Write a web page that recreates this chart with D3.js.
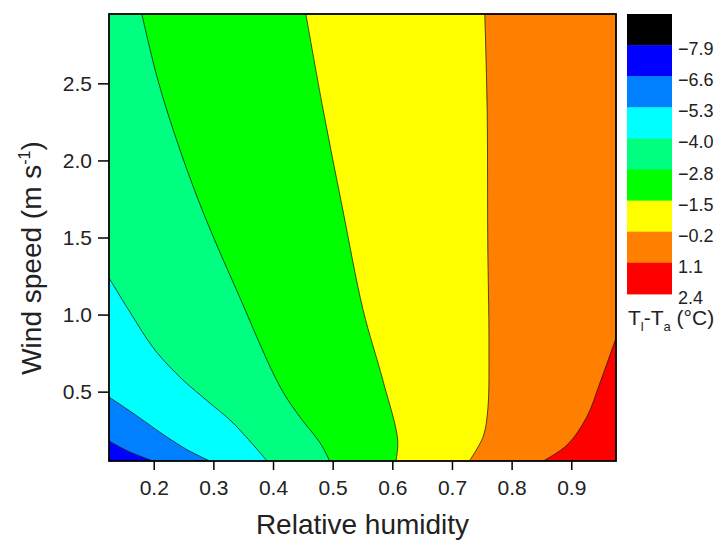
<!DOCTYPE html>
<html>
<head>
<meta charset="utf-8">
<script src="https://cdn.jsdelivr.net/npm/d3@7"></script>
<style>
  body { margin: 0; background: #fff; }
  svg { font-family: Arial, "Liberation Sans", Helvetica, sans-serif; }
</style>
</head>
<body>
<svg id="chart" width="720" height="540"></svg>
<script>
// contour levels and fill colours (colour i sits above level i on the bar)
const levels = [-7.9, -6.6, -5.3, -4.0, -2.8, -1.5, -0.2, 1.1, 2.4];
const bandColors = ["#000000", "#0000ff", "#0080ff", "#00ffff", "#00ff80", "#00ff00", "#ffff00", "#ff8000", "#ff0000"];

const rhExtent = [0.125, 0.975];
const wsExtent = [0.05, 2.95];
const rhTicks = [0.2, 0.3, 0.4, 0.5, 0.6, 0.7, 0.8, 0.9];
const wsTicks = [0.5, 1.0, 1.5, 2.0, 2.5];

// contour lines: [relative humidity, wind speed]
const contour_m66 = [[0.125, 0.180], [0.160, 0.108], [0.199, 0.05]];
const contour_m53 = [[0.125, 0.465], [0.165, 0.361], [0.205, 0.251], [0.222, 0.206], [0.257, 0.121], [0.294, 0.05]];
const contour_m40 = [[0.125, 1.238], [0.160, 1.017], [0.202, 0.770], [0.249, 0.576], [0.291, 0.436], [0.333, 0.297], [0.390, 0.05]];
const contour_m28 = [[0.180, 2.95], [0.207, 2.52], [0.244, 2.068], [0.286, 1.633], [0.341, 1.140], [0.412, 0.530], [0.445, 0.336], [0.479, 0.167], [0.495, 0.05]];
const contour_m15 = [[0.455, 2.95], [0.484, 2.328], [0.517, 1.679], [0.551, 1.030], [0.584, 0.576], [0.609, 0.186], [0.606, 0.05]];
const contour_m02 = [[0.755, 2.95], [0.759, 2.328], [0.760, 1.465], [0.762, 0.816], [0.760, 0.381], [0.752, 0.206], [0.729, 0.05]];
const contour_p11 = [[0.975, 0.848], [0.948, 0.556], [0.926, 0.336], [0.893, 0.154], [0.853, 0.05]];

// level -> line, region to the right of each line is above that level
const contours = [
  { level: -6.6, pts: contour_m66 },
  { level: -5.3, pts: contour_m53 },
  { level: -4.0, pts: contour_m40 },
  { level: -2.8, pts: contour_m28 },
  { level: -1.5, pts: contour_m15 },
  { level: -0.2, pts: contour_m02 },
  { level: 1.1, pts: contour_p11 },
];

const MARGINS = { top: 14, right: 104, bottom: 79, left: 109 };
const W = 720, H = 540;

const svg = d3.select("#chart");

const x = d3.scaleLinear().domain(rhExtent).range([MARGINS.left, W - MARGINS.right]);
const y = d3.scaleLinear().domain(wsExtent).range([H - MARGINS.bottom, MARGINS.top]);

const colorOf = lv => bandColors[levels.indexOf(lv) + 1];

const line = d3.line()
  .x(d => x(d[0]))
  .y(d => y(d[1]))
  .curve(d3.curveCatmullRom.alpha(0.5));

// walk around the frame from the bottom end back to the start of the line
function corners(start) {
  const c = [[rhExtent[1], wsExtent[0]]];
  if (start[0] >= rhExtent[1] - 1e-6) return c;
  c.push([rhExtent[1], wsExtent[1]]);
  if (start[1] >= wsExtent[1] - 1e-6) return c;
  c.push([rhExtent[0], wsExtent[1]]);
  return c;
}

const plot = svg.append("g");

// lowest band fills the whole frame
plot.append("rect")
  .attr("x", x(rhExtent[0]))
  .attr("y", y(wsExtent[1]))
  .attr("width", x(rhExtent[1]) - x(rhExtent[0]))
  .attr("height", y(wsExtent[0]) - y(wsExtent[1]))
  .attr("fill", bandColors[1]);

plot.selectAll("path.band")
  .data(contours)
  .join("path")
  .attr("class", "band")
  .attr("fill", d => colorOf(d.level))
  .attr("d", d => line(d.pts) + corners(d.pts[0]).map(p => `L${x(p[0])},${y(p[1])}`).join("") + "Z");

plot.selectAll("path.iso")
  .data(contours)
  .join("path")
  .attr("class", "iso")
  .attr("fill", "none")
  .attr("stroke", "#1a1a1a")
  .attr("stroke-opacity", 0.75)
  .attr("stroke-width", 1)
  .attr("d", d => line(d.pts));

// axes
const fmt = d3.format(".1f");
const xAxis = svg.append("g")
  .attr("transform", `translate(0,${H - MARGINS.bottom})`)
  .call(d3.axisBottom(x).tickValues(rhTicks).tickFormat(fmt).tickSize(9).tickPadding(10).tickSizeOuter(0));
const yAxis = svg.append("g")
  .attr("transform", `translate(${MARGINS.left},0)`)
  .call(d3.axisLeft(y).tickValues(wsTicks).tickFormat(fmt).tickSize(11).tickPadding(6).tickSizeOuter(0));

[xAxis, yAxis].forEach(g => {
  g.select(".domain").remove();
  g.selectAll("line").attr("stroke", "#000").attr("stroke-width", 1.5);
  g.selectAll("text").attr("font-size", 21).attr("fill", "#222")
    .attr("font-family", "Arial, 'Liberation Sans', sans-serif");
});

// frame
svg.append("rect")
  .attr("x", x(rhExtent[0]))
  .attr("y", y(wsExtent[1]))
  .attr("width", x(rhExtent[1]) - x(rhExtent[0]))
  .attr("height", y(wsExtent[0]) - y(wsExtent[1]))
  .attr("fill", "none")
  .attr("stroke", "#000")
  .attr("stroke-width", 1.8);

// axis titles
svg.append("text")
  .attr("x", (x.range()[0] + x.range()[1]) / 2)
  .attr("y", 534)
  .attr("text-anchor", "middle")
  .attr("font-size", 28)
  .attr("fill", "#222")
  .text("Relative humidity");

const yt = svg.append("text")
  .attr("transform", "translate(41,258) rotate(-90)")
  .attr("text-anchor", "middle")
  .attr("font-size", 28)
  .attr("fill", "#222");
yt.append("tspan").text("Wind speed (m s");
yt.append("tspan").attr("font-size", 16).attr("dy", -11).text("-1");
yt.append("tspan").attr("dy", 11).text(")");

// colour bar
const barX = 627, barW = 45, barTop = 14, bandH = 31.1;
const bar = svg.append("g");
bar.selectAll("rect")
  .data(bandColors)
  .join("rect")
  .attr("x", barX)
  .attr("y", (d, i) => barTop + i * bandH)
  .attr("width", barW)
  .attr("height", bandH + 0.5)
  .attr("fill", d => d);

bar.selectAll("text")
  .data(levels)
  .join("text")
  .attr("x", barX + 51)
  .attr("y", (d, i) => barTop + (i + 1) * bandH + 10)
  .attr("font-size", 18)
  .attr("fill", "#222")
  .text(d => fmt(d));

const ct = svg.append("text")
  .attr("x", 628)
  .attr("y", 325)
  .attr("font-size", 21)
  .attr("fill", "#222");
ct.append("tspan").text("T");
ct.append("tspan").attr("font-size", 13).attr("dy", 6).text("l");
ct.append("tspan").attr("dy", -6).text("-T");
ct.append("tspan").attr("font-size", 13).attr("dy", 6).text("a");
ct.append("tspan").attr("dy", -6).text(" (°C)");
</script>
</body>
</html>
